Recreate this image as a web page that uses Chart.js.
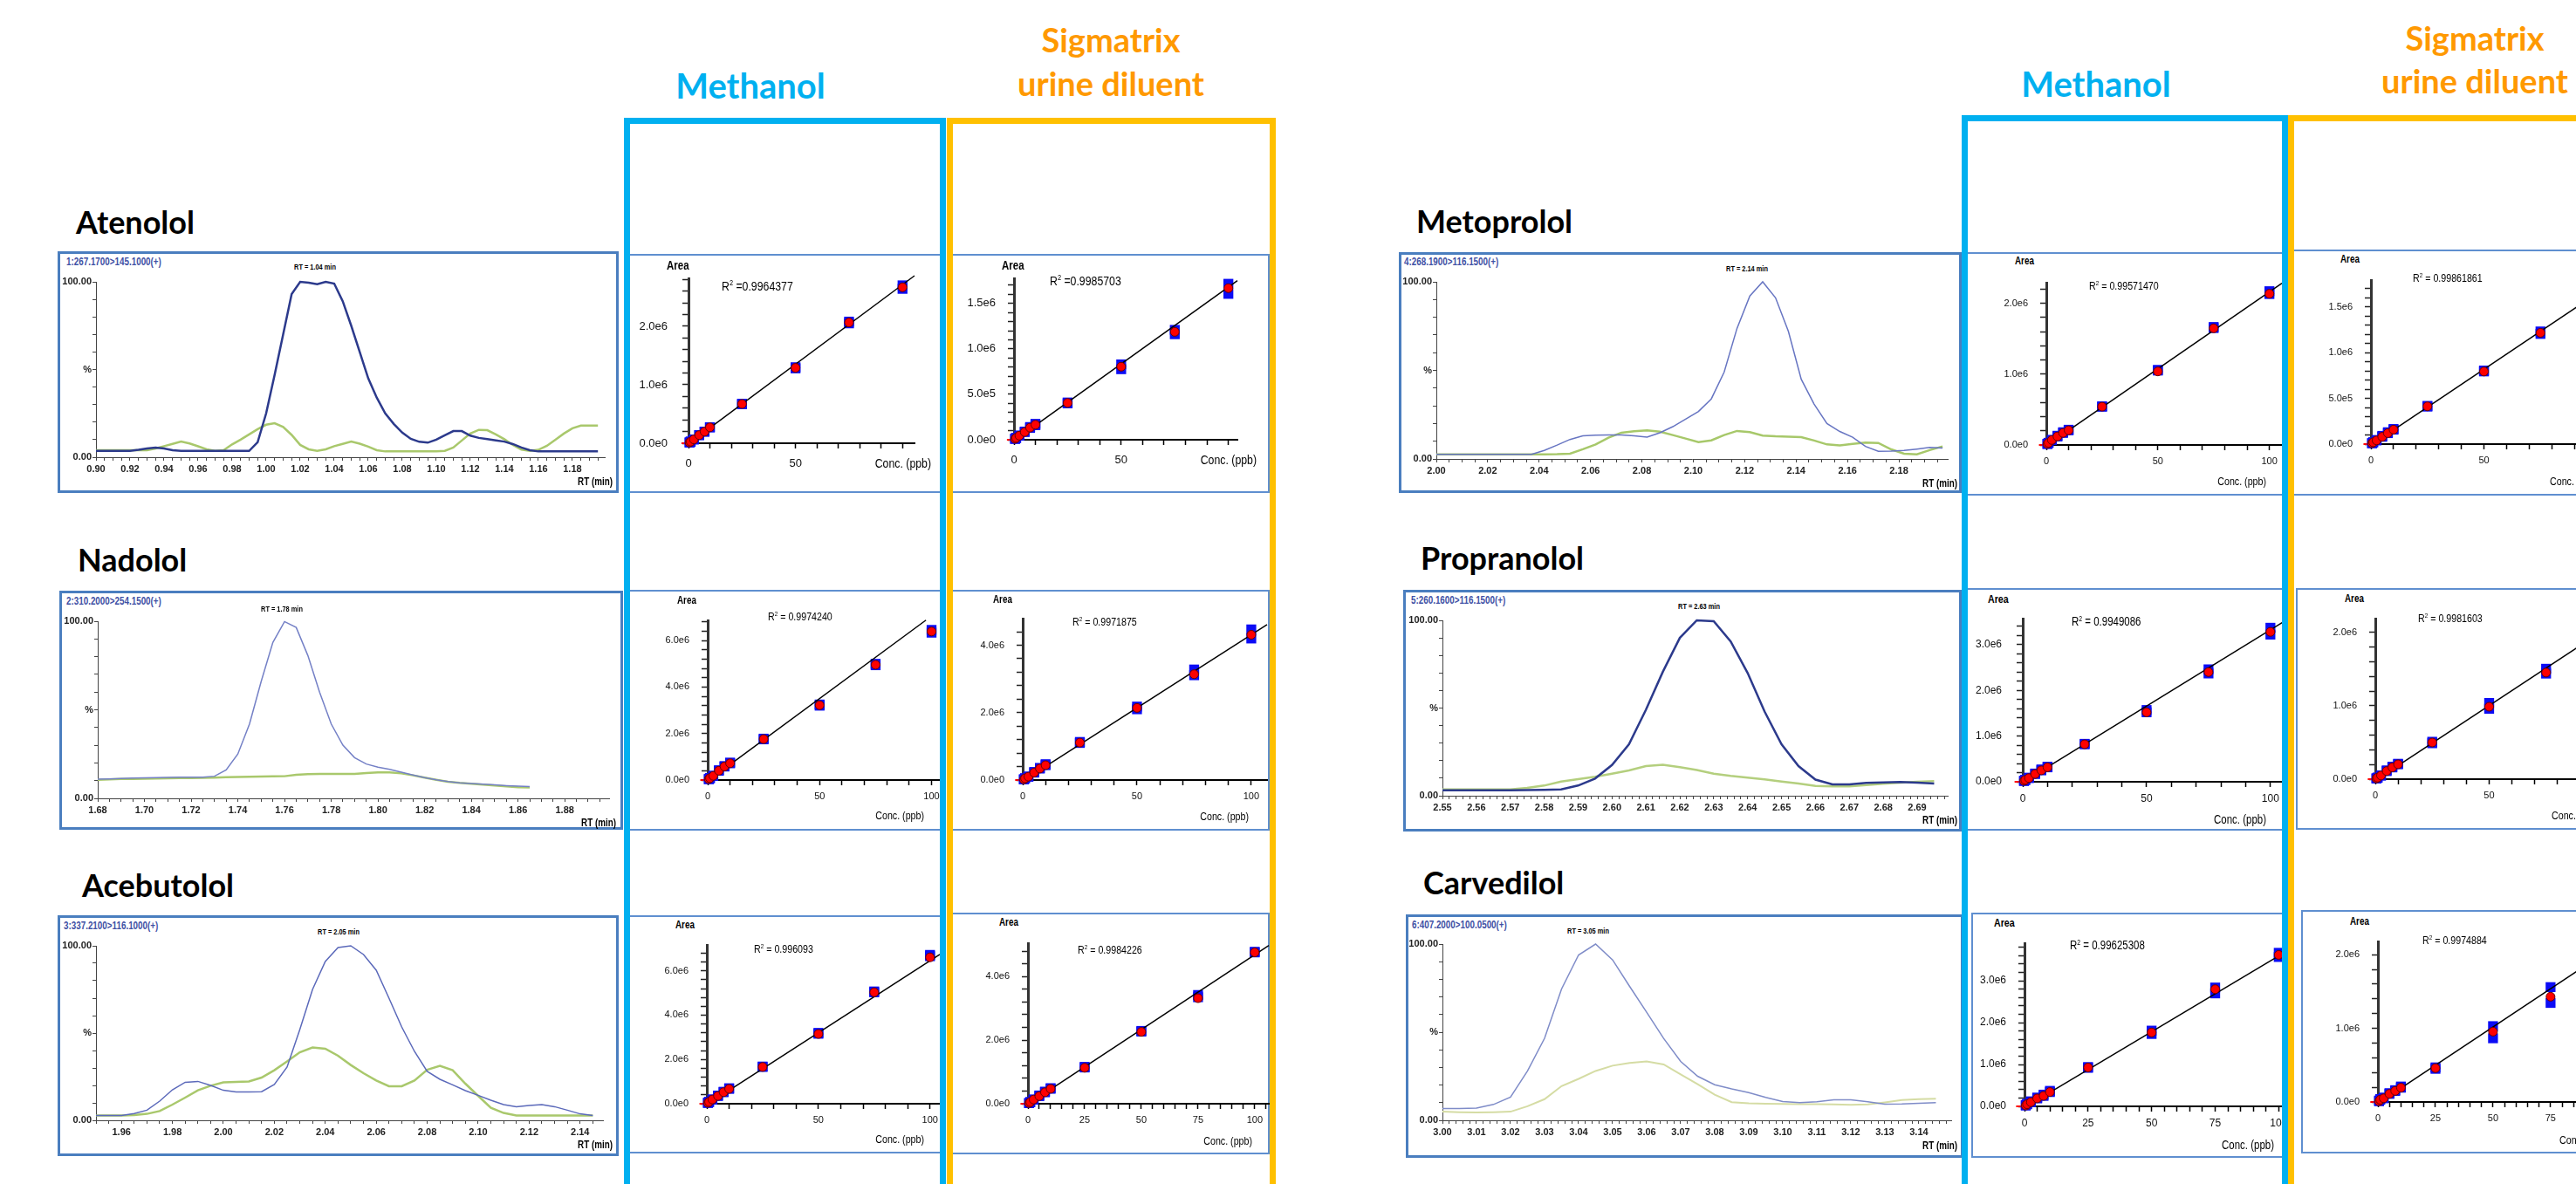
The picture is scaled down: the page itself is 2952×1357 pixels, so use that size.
<!DOCTYPE html>
<html>
<head>
<meta charset="utf-8">
<script src="https://cdn.jsdelivr.net/npm/chart.js@4.4.1/dist/chart.umd.min.js"></script>
<style>
  html, body { margin: 0; padding: 0; background: #fff; }
  body { position: relative; width: 2952px; height: 1357px; overflow: hidden; }
  .frame { position: absolute; box-sizing: border-box; border-style: solid; border-width: 7.5px; z-index: 5; }
  .box { position: absolute; box-sizing: border-box; z-index: 1; }
  canvas { position: absolute; z-index: 2; }
  .t { position: absolute; white-space: nowrap; z-index: 3; }
  sup { font-size: 0.6em; line-height: 0; vertical-align: 0.6em; }
</style>
</head>
<body>
<script>
// ---------- chromatograms: retention time (min) and relative intensity (%) ----------
const atenololRt = [0.900,0.905,0.910,0.915,0.920,0.925,0.930,0.935,0.940,0.945,0.950,0.955,0.960,0.965,0.970,0.975,0.980,0.985,0.990,0.995,
  1.000,1.005,1.010,1.015,1.020,1.025,1.030,1.035,1.040,1.045,1.050,1.055,1.060,1.065,1.070,1.075,1.080,1.085,1.090,1.095,
  1.100,1.105,1.110,1.115,1.120,1.125,1.130,1.135,1.140,1.145,1.150,1.155,1.160,1.165,1.170,1.175,1.180,1.185,1.190,1.195];
const atenololBlue = [3.6,3.6,3.6,3.6,3.6,4.2,5.0,5.5,5.0,4.0,3.6,3.6,3.6,3.6,3.6,3.6,3.6,3.6,3.6,8.5,
  25,47,70,93,100,99.5,98.7,100,99,89,75,60,45,34,25,19,14,10.5,8.8,8.3,
  10,12.5,14.9,14.9,12.3,11,10.3,9.6,8.9,7.5,5.5,4.0,3.3,3.3,3.3,3.3,3.3,3.3,3.3,3.3];
const atenololGreen = [4.0,4.0,4.0,4.0,4.0,4.0,4.0,5.0,6.3,7.6,8.9,7.8,6.2,4.5,3.6,4.0,7.3,10,13,16,
  18.5,19.4,17.2,12.7,7.0,4.5,3.6,4.5,6.3,7.6,8.9,7.7,6.0,4.0,3.3,3.3,3.3,3.3,3.3,3.3,
  3.3,3.6,5.5,9.5,13.5,15.6,15.4,13.0,10.3,7.0,4.3,3.6,4.2,6.5,10,13.5,16.5,18,18,18];

const nadololRt = [1.680,1.685,1.690,1.695,1.700,1.705,1.710,1.715,1.720,1.725,1.730,1.735,1.740,1.745,1.750,1.755,1.760,1.765,1.770,
  1.775,1.780,1.785,1.790,1.795,1.800,1.805,1.810,1.815,1.820,1.825,1.830,1.835,1.840,1.845,1.850,1.855,1.860,1.865];
const nadololBlue = [10.8,11.0,11.2,11.4,11.6,11.7,11.8,11.9,12.0,12.0,12.5,16,25,42,66,88,99.8,96.5,80.6,
  60,42,30,23,19.4,17.6,16.4,14.8,13.2,11.7,10.5,9.5,8.8,8.4,8.0,7.6,7.2,6.9,6.7];
const nadololGreen = [10.5,10.7,10.9,11.0,11.1,11.2,11.3,11.4,11.5,11.6,11.7,11.9,12.1,12.2,12.3,12.4,12.5,13.3,13.7,
  13.8,13.8,13.8,13.8,14.3,14.6,14.6,14.1,13.0,11.7,10.5,9.4,8.7,8.2,7.8,7.3,6.8,6.3,6.2];

const acebutololRt = [1.950,1.955,1.960,1.965,1.970,1.975,1.980,1.985,1.990,1.995,2.000,2.005,2.010,2.015,2.020,2.025,2.030,2.035,2.040,2.045,
  2.050,2.055,2.060,2.065,2.070,2.075,2.080,2.085,2.090,2.095,2.100,2.105,2.110,2.115,2.120,2.125,2.130,2.135,2.140,2.145];
const acebutololBlue = [2.8,2.8,2.8,3.9,5.8,11,17.5,21.8,22.3,20,17.2,16.2,16.2,16.4,20.5,30.5,52,75,91,99,
  100,95,86,70,53.5,39.5,28,23.5,20.3,17,14.3,11.5,9.0,7.8,8.5,9.0,7.8,5.8,3.7,2.8];
const acebutololGreen = [2.8,2.8,2.8,3.0,3.7,5.3,9,13,17.2,19.8,21.7,22,22.3,24.5,28.7,33.7,39,41.7,41,37,
  31.7,27,22.8,19.5,19.5,22.8,29,31.2,28.7,21,14,7.2,4.2,2.8,2.8,2.8,2.8,2.8,2.8,2.8];

const metoprololRt = [2.000,2.002,2.007,2.012,2.017,2.022,2.027,2.032,2.037,2.042,2.047,2.052,2.057,2.062,2.067,2.072,2.077,2.082,2.087,2.092,
  2.097,2.102,2.107,2.112,2.117,2.122,2.127,2.132,2.137,2.142,2.147,2.152,2.157,2.162,2.167,2.172,2.177,2.182,2.187,2.192,2.197];
const metoprololBlue = [2.6,2.6,2.6,2.6,2.6,2.6,2.6,2.6,2.6,4.8,7.8,11.0,13.0,13.4,13.5,13.5,13.0,12.3,14.8,18.2,
  22.5,26.8,33.9,49,73.7,92,100,91,72,45,31,20,15.5,12.3,7.1,4.3,4.4,4.8,5.6,6.5,6.2];
const metoprololGreen = [2.6,2.6,2.6,2.6,2.6,2.6,2.6,2.6,2.6,2.6,2.7,3.0,5.5,8.2,12.0,14.8,15.6,16.1,15.4,13.5,
  11.5,9.5,10.5,13.5,15.8,15.1,13.2,12.8,12.6,12.3,10.4,8.2,7.6,8.5,9.2,9.0,5.4,3.0,2.6,5.0,7.1];

const propranololRt = [2.550,2.555,2.560,2.565,2.570,2.575,2.580,2.585,2.590,2.595,2.600,2.605,2.610,2.615,2.620,
  2.625,2.630,2.635,2.640,2.645,2.650,2.655,2.660,2.665,2.670,2.675,2.680,2.685,2.690,2.695];
const propranololBlue = [3.1,3.1,3.1,3.1,3.1,3.2,3.4,3.6,5.8,9.8,17.5,29.3,49,70.7,90,
  100,99.5,88,70,48,29.3,16.9,9.2,6.5,6.5,7.3,7.6,7.8,7.5,7.0];
const propranololGreen = [3.6,3.6,3.6,3.6,3.6,4.5,5.8,8.1,9.4,10.8,12.6,14.4,16.9,17.7,16.3,
  14.7,12.6,11.3,10.3,9.3,8.1,7.0,5.6,5.3,5.3,6.1,6.8,7.5,7.9,8.3];

const carvedilolRt = [3.000,3.005,3.010,3.015,3.020,3.025,3.030,3.035,3.040,3.045,3.050,3.055,3.060,3.065,3.070,
  3.075,3.080,3.085,3.090,3.095,3.100,3.105,3.110,3.115,3.120,3.125,3.130,3.135,3.140,3.145];
const carvedilolBlue = [6.7,6.7,6.9,9.0,13.2,28,46.5,74.5,93.8,100,91,76,61.3,46.5,33.4,
  25,20.2,17.8,15.7,13,10.6,10.0,10.5,11.6,11.6,10.5,9.2,9.3,9.7,10];
const carvedilolGreen = [4.9,4.6,4.4,4.6,4.9,8.0,12,19.4,23.5,28,31,32.6,33.4,31.7,26,
  20.5,14.5,10.3,9.6,9.4,9.3,9.2,9.1,9.0,8.8,9.0,10.2,11.5,12,12.3];

// ---------- calibration curves: concentration (ppb) vs peak area (x 1e6) ----------
const conc = [0.5, 1, 2.5, 5, 7.5, 10, 25, 50, 75, 100];
const concTicksShort = [0, 50];
const concTicks = [0, 50, 100];
const concTicksFine = [0, 25, 50, 75, 100];

// mean = red circles, rep1 / rep2 = blue squares, fit = regression line end points
const atenololMeOH      = [0.013,0.027,0.065,0.139,0.198,0.272,0.672,1.289,2.065,2.667];
const atenololMeOHRep1  = [0.013,0.027,0.065,0.139,0.198,0.272,0.675,1.300,2.080,2.700];
const atenololMeOHRep2  = [0.013,0.027,0.065,0.139,0.198,0.272,0.668,1.280,2.050,2.640];
const atenololMeOHFit   = [[0, -0.01], [105.6, 2.865]];
const atenololSig       = [0.010,0.020,0.045,0.085,0.133,0.165,0.405,0.804,1.187,1.668];
const atenololSigRep1   = [0.010,0.020,0.045,0.090,0.140,0.175,0.410,0.829,1.209,1.716];
const atenololSigRep2   = [0.010,0.020,0.045,0.085,0.130,0.160,0.400,0.776,1.161,1.605];
const atenololSigFit    = [[0, -0.01], [104.2, 1.75]];

const nadololMeOH       = [0.04,0.08,0.18,0.40,0.58,0.72,1.76,3.22,4.96,6.39];
const nadololMeOHRep1   = [0.04,0.08,0.18,0.42,0.60,0.75,1.78,3.25,5.00,6.46];
const nadololMeOHRep2   = [0.04,0.08,0.18,0.40,0.58,0.72,1.75,3.20,4.94,6.34];
const nadololMeOHFit    = [[0, -0.04], [97.5, 6.88]];
const nadololSig        = [0.02,0.05,0.10,0.22,0.34,0.44,1.11,2.14,3.14,4.31];
const nadololSigRep1    = [0.02,0.05,0.10,0.24,0.36,0.47,1.13,2.18,3.28,4.47];
const nadololSigRep2    = [0.02,0.05,0.10,0.22,0.34,0.44,1.10,2.10,3.11,4.20];
const nadololSigFit     = [[0, -0.03], [106.9, 4.61]];

const acebutololMeOH     = [0.04,0.08,0.19,0.35,0.52,0.67,1.66,3.15,5.03,6.61];
const acebutololMeOHRep1 = [0.04,0.08,0.19,0.37,0.54,0.70,1.68,3.20,5.07,6.72];
const acebutololMeOHRep2 = [0.04,0.08,0.19,0.35,0.52,0.67,1.66,3.16,5.03,6.66];
const acebutololMeOHFit  = [[0, -0.04], [104.4, 6.74]];
const acebutololSig      = [0.02,0.05,0.13,0.24,0.36,0.47,1.13,2.26,3.32,4.76];
const acebutololSigRep1  = [0.02,0.05,0.13,0.26,0.38,0.49,1.16,2.29,3.42,4.78];
const acebutololSigRep2  = [0.02,0.05,0.13,0.24,0.36,0.47,1.14,2.27,3.35,4.76];
const acebutololSigFit   = [[0, -0.02], [106.2, 4.98]];

const metoprololMeOH     = [0.015,0.03,0.07,0.12,0.17,0.207,0.541,1.038,1.646,2.134];
const metoprololMeOHRep1 = [0.015,0.03,0.07,0.13,0.18,0.215,0.545,1.060,1.665,2.170];
const metoprololMeOHRep2 = [0.015,0.03,0.07,0.12,0.17,0.207,0.540,1.050,1.650,2.130];
const metoprololMeOHFit  = [[0, -0.01], [105.6, 2.283]];
const metoprololSig      = [0.01,0.02,0.04,0.08,0.12,0.158,0.413,0.794,1.217,1.65];
const metoprololSigRep1  = [0.01,0.02,0.045,0.09,0.13,0.165,0.418,0.805,1.232,1.67];
const metoprololSigRep2  = [0.01,0.02,0.04,0.08,0.12,0.158,0.410,0.795,1.205,1.64];
const metoprololSigFit   = [[0, -0.01], [105, 1.73]];

const propranololMeOH     = [0.02,0.04,0.08,0.17,0.25,0.316,0.82,1.52,2.40,3.28];
const propranololMeOHRep1 = [0.02,0.04,0.09,0.18,0.27,0.33,0.83,1.57,2.46,3.37];
const propranololMeOHRep2 = [0.02,0.04,0.08,0.17,0.25,0.316,0.82,1.52,2.37,3.22];
const propranololMeOHFit  = [[0, -0.01], [105, 3.49]];
const propranololSig      = [0.01,0.02,0.05,0.11,0.16,0.203,0.50,0.988,1.454,1.97];
const propranololSigRep1  = [0.01,0.02,0.05,0.12,0.17,0.21,0.51,1.04,1.506,2.00];
const propranololSigRep2  = [0.01,0.02,0.05,0.11,0.16,0.203,0.49,0.96,1.44,1.94];
const propranololSigFit   = [[0, -0.02], [105, 2.13]];

const carvedilolMeOH     = [0.02,0.05,0.10,0.19,0.25,0.342,0.928,1.765,2.80,3.62];
const carvedilolMeOHRep1 = [0.03,0.06,0.12,0.21,0.28,0.37,0.94,1.81,2.84,3.67];
const carvedilolMeOHRep2 = [0.02,0.05,0.10,0.19,0.25,0.342,0.92,1.73,2.70,3.57];
const carvedilolMeOHFit  = [[0, -0.03], [104, 3.74]];
const carvedilolSig      = [0.01,0.03,0.05,0.11,0.15,0.194,0.46,0.955,1.43,2.06];
const carvedilolSigRep1  = [0.02,0.04,0.06,0.12,0.16,0.21,0.47,1.03,1.56,2.10];
const carvedilolSigRep2  = [0.01,0.03,0.05,0.11,0.15,0.194,0.45,0.865,1.345,2.02];
const carvedilolSigFit   = [[0, -0.02], [105, 2.16]];

// ---------- helpers ----------
// no narrow face is installed, so Arial-metric text is squeezed to look like Arial Narrow
const SANS = "'Liberation Sans', Arial, sans-serif";
const TITLE = "Lato, 'Open Sans', sans-serif";
const NARROW_X = 0.82;

function isMult(v, step) {
  const q = v / step;
  return Math.abs(q - Math.round(q)) < 1e-6;
}

function addDiv(cls, css) {
  const d = document.createElement('div');
  d.className = cls;
  d.style.cssText = css;
  document.body.appendChild(d);
  return d;
}

// text placed by its left / centre / right x and vertical centre y
function txt(html, x, cy, font, color, align, sx) {
  const tx = align === 'right' ? '-100%' : align === 'center' ? '-50%' : '0';
  const ox = align === 'right' ? 'right' : align === 'center' ? 'center' : 'left';
  const d = addDiv('t', `left:${x}px;top:${cy}px;font:${font};line-height:1;color:${color || '#000'};` +
    `transform-origin:${ox} center;transform:translate(${tx},-50%) scaleX(${sx || 1});`);
  d.innerHTML = html;
}

function box(b, border) {
  addDiv('box', `left:${b[0]}px;top:${b[1]}px;width:${b[2] - b[0]}px;height:${b[3] - b[1]}px;border:${border};`);
}

function addCanvas(left, top, w, h) {
  const c = document.createElement('canvas');
  c.width = w; c.height = h;
  c.style.left = left + 'px'; c.style.top = top + 'px';
  c.style.width = w + 'px'; c.style.height = h + 'px';
  document.body.appendChild(c);
  return c.getContext('2d');
}

const baseOptions = {
  responsive: false, animation: false, events: [],
  plugins: { legend: { display: false }, tooltip: { enabled: false } }
};

function chromatogram(c) {
  const W = 50, H = 34, padT = 10, padR = 8;
  const left = Math.round(c.x0) - W, top = Math.round(c.y100) - padT;
  const width = Math.round(c.x1) + padR - left, height = Math.round(c.y0) + H - top;
  const ctx = addCanvas(left, top, width, height);
  const series = v => c.rt.map((x, i) => ({ x, y: v[i] }));
  const tickFont = { family: SANS, size: 11, weight: 'bold' };
  new Chart(ctx, {
    type: 'scatter',
    data: {
      datasets: [
        { data: series(c.blue), borderColor: c.blueColor, borderWidth: c.blueWidth },
        { data: series(c.green), borderColor: c.greenColor, borderWidth: c.greenWidth }
      ].map(d => Object.assign({ showLine: true, pointRadius: 0, clip: false, tension: 0 }, d))
    },
    options: Object.assign({}, baseOptions, {
      layout: { padding: { top: padT, right: padR, left: 0, bottom: 0 } },
      scales: {
        x: {
          type: 'linear', min: c.min, max: c.max,
          afterFit: s => { s.height = H; s.paddingLeft = 0; s.paddingRight = 0; },
          ticks: { stepSize: c.step, includeBounds: false, autoSkip: false, maxRotation: 0, padding: 3,
                   color: '#222', font: tickFont, callback: v => isMult(v, c.lab) ? v.toFixed(2) : '' },
          grid: { drawOnChartArea: false, tickLength: 4, tickColor: '#444', tickWidth: 1 },
          border: { color: '#444', width: 1 }
        },
        y: {
          min: 0, max: 100,
          afterFit: s => { s.width = W; s.paddingTop = 0; s.paddingBottom = 0; },
          ticks: { stepSize: 10, includeBounds: false, autoSkip: false, padding: 1, color: '#222', font: tickFont,
                   callback: v => v === 100 ? '100.00' : v === 50 ? '%' : v === 0 ? '0.00' : '' },
          grid: { drawOnChartArea: false, tickLength: 4, tickColor: '#444', tickWidth: 1 },
          border: { color: '#444', width: 1 }
        }
      }
    })
  });
  const f = `bold 12px ${SANS}`;
  txt(c.tag, c.tagX, c.tagY, f, '#3f51a5', 'left', NARROW_X);
  txt(c.rtText, c.rtX, c.rtY, `bold 9px ${SANS}`, '#000', 'center', NARROW_X);
  txt('RT (min)', c.unitX, c.unitY, f, '#000', 'right', NARROW_X);
}

function calibration(p) {
  const W = 80, H = 40, padT = 6, padR = 16;
  const left = Math.round(p.x0) - W, top = Math.round(p.y1) - padT;
  const width = Math.round(p.x1) + padR - left, height = Math.round(p.y0) + H - top;
  const ctx = addCanvas(left, top, width, height);
  const pts = v => conc.map((x, i) => ({ x, y: v[i] }));
  const font = { family: SANS, size: Math.round(p.fs * 0.88) };
  new Chart(ctx, {
    type: 'scatter',
    data: {
      datasets: [
        { data: pts(p.mean), pointStyle: 'circle', pointRadius: 5, backgroundColor: '#ff0000', borderColor: '#6a0000', borderWidth: 1 },
        { data: p.fit.map(([x, y]) => ({ x, y })), showLine: true, borderColor: '#000', borderWidth: 1.5, pointRadius: 0 },
        { data: pts(p.rep1).concat(pts(p.rep2)), pointStyle: 'rect', pointRadius: 8, backgroundColor: '#0b0bf5', borderWidth: 0 },
        { data: [{ x: -3.3, y: 0 }, { x: 0, y: 0 }], showLine: true, borderColor: '#ff0000', borderWidth: 2, pointRadius: 0 }
      ].map(d => Object.assign({ clip: false }, d))
    },
    options: Object.assign({}, baseOptions, {
      layout: { padding: { top: padT, right: padR, left: 0, bottom: 0 } },
      scales: {
        x: {
          type: 'linear', min: 0, max: p.xmax,
          afterFit: s => { s.height = H; s.paddingLeft = 0; s.paddingRight = 0; },
          ticks: { stepSize: p.xstep, includeBounds: false, autoSkip: false, maxRotation: 0, padding: p.fs >= 15 ? 10 : 6,
                   color: '#111', font, callback: v => p.xlabels.some(l => Math.abs(l - v) < 1e-6) ? String(Math.round(v)) : '' },
          grid: { drawOnChartArea: false, tickLength: 6, tickColor: '#000', tickWidth: 1.5 },
          border: { color: '#000', width: 2 }
        },
        y: {
          min: 0, max: p.ymax,
          afterFit: s => { s.width = W; s.paddingTop = 0; s.paddingBottom = 0; },
          ticks: { stepSize: p.ystep, includeBounds: false, autoSkip: false, padding: p.ypad, color: '#111', font,
                   callback: v => isMult(v, p.ylab) ? (Math.round(v * 1e6)).toExponential(1).replace('+', '') : '' },
          grid: { drawOnChartArea: false, tickLength: 7, tickColor: '#222', tickWidth: 1.5 },
          border: { color: '#333', width: 3 }
        }
      }
    })
  });
  txt('Area', p.areaX, p.areaY, `bold ${p.fs - 1}px ${SANS}`, '#000', 'left', NARROW_X);
  txt(p.r2, p.r2X, p.r2Y, `${p.fs}px ${SANS}`, '#000', 'left', NARROW_X);
  txt('Conc. (ppb)', p.concX, p.concY, `${p.fs}px ${SANS}`, '#000', p.concAlign, NARROW_X);
}

// ---------- layout ----------
const BLUE = '#00b0f0', GOLD = '#ffc000', ORANGE = '#ff9900';
const CHROM_BORDER = '3px solid #4a7ebf';
const CAL_BORDER = '2.5px solid #5f8fd0';

const chromatograms = [
  { box: [66, 288, 709, 565], x0: 110, x1: 693, y100: 323, y0: 524, min: 0.90, max: 1.199, step: 0.005, lab: 0.02,
    rt: atenololRt, blue: atenololBlue, green: atenololGreen,
    blueColor: '#2c3a8c', blueWidth: 2.5, greenColor: '#a9c86c', greenWidth: 2.5,
    tag: '1:267.1700&gt;145.1000(+)', tagX: 76, tagY: 300, rtText: 'RT = 1.04 min', rtX: 361, rtY: 306, unitX: 702, unitY: 552 },
  { box: [68, 677, 714, 951], x0: 111.6, x1: 698, y100: 712, y0: 915, min: 1.68, max: 1.899, step: 0.005, lab: 0.02,
    rt: nadololRt, blue: nadololBlue, green: nadololGreen,
    blueColor: '#7480c6', blueWidth: 1.5, greenColor: '#a9c86c', greenWidth: 2.5,
    tag: '2:310.2000&gt;254.1500(+)', tagX: 76, tagY: 689, rtText: 'RT = 1.78 min', rtX: 323, rtY: 698, unitX: 706, unitY: 943 },
  { box: [66, 1049, 709, 1325], x0: 110, x1: 691, y100: 1084, y0: 1284, min: 1.95, max: 2.149, step: 0.005, lab: 0.02,
    rt: acebutololRt, blue: acebutololBlue, green: acebutololGreen,
    blueColor: '#5b69ba', blueWidth: 1.5, greenColor: '#a9c86c', greenWidth: 2.5,
    tag: '3:337.2100&gt;116.1000(+)', tagX: 73, tagY: 1061, rtText: 'RT = 2.05 min', rtX: 388, rtY: 1068, unitX: 702, unitY: 1312 },
  { box: [1603, 289, 2248, 565], x0: 1646, x1: 2231.5, y100: 323, y0: 526, min: 2.00, max: 2.199, step: 0.005, lab: 0.02,
    rt: metoprololRt, blue: metoprololBlue, green: metoprololGreen,
    blueColor: '#6775c2', blueWidth: 1.5, greenColor: '#a7c86a', greenWidth: 2.5,
    tag: '4:268.1900&gt;116.1500(+)', tagX: 1609, tagY: 300, rtText: 'RT = 2.14 min', rtX: 2002, rtY: 308, unitX: 2243, unitY: 554 },
  { box: [1608, 676, 2248, 953], x0: 1653, x1: 2231.5, y100: 711, y0: 912, min: 2.55, max: 2.699, step: 0.002, lab: 0.01,
    rt: propranololRt, blue: propranololBlue, green: propranololGreen,
    blueColor: '#2c3a8c', blueWidth: 2.5, greenColor: '#b4cf7e', greenWidth: 2.5,
    tag: '5:260.1600&gt;116.1500(+)', tagX: 1617, tagY: 688, rtText: 'RT = 2.63 min', rtX: 1947, rtY: 695, unitX: 2243, unitY: 940 },
  { box: [1611, 1048, 2250, 1327], x0: 1653, x1: 2236, y100: 1082, y0: 1284, min: 3.00, max: 3.1495, step: 0.002, lab: 0.01,
    rt: carvedilolRt, blue: carvedilolBlue, green: carvedilolGreen,
    blueColor: '#7f8cc8', blueWidth: 1.5, greenColor: '#d5dca4', greenWidth: 2,
    tag: '6:407.2000&gt;100.0500(+)', tagX: 1618, tagY: 1060, rtText: 'RT = 3.05 min', rtX: 1820, rtY: 1067, unitX: 2243, unitY: 1313 }
];

const calibrations = [
  { box: [715, 291, 1084, 565], x0: 788.6, x1: 1048, y0: 507.7, y1: 317.3, xmax: 105.6, ymax: 2.82, ystep: 0.2, ylab: 1, xstep: 10,
    xlabels: concTicksShort, fs: 15, ypad: 17, mean: atenololMeOH, rep1: atenololMeOHRep1, rep2: atenololMeOHRep2, fit: atenololMeOHFit,
    r2: 'R<sup>2</sup> =0.9964377', r2X: 827, r2Y: 327, areaX: 764, areaY: 304, concX: 1067, concY: 530, concAlign: 'right' },
  { box: [1085, 291, 1455, 565], x0: 1162.3, x1: 1418, y0: 504, y1: 317, xmax: 104.2, ymax: 1.776, ystep: 0.1, ylab: 0.5, xstep: 10,
    xlabels: concTicksShort, fs: 15, ypad: 14, mean: atenololSig, rep1: atenololSigRep1, rep2: atenololSigRep2, fit: atenololSigFit,
    r2: 'R<sup>2</sup> =0.9985703', r2X: 1203, r2Y: 321, areaX: 1148, areaY: 304, concX: 1440, concY: 526, concAlign: 'right' },
  { box: [715, 676, 1084, 952], x0: 811.4, x1: 1075.6, y0: 894, y1: 709.3, xmax: 103.3, ymax: 6.87, ystep: 0.4, ylab: 2, xstep: 10,
    xlabels: concTicks, fs: 13, ypad: 14, mean: nadololMeOH, rep1: nadololMeOHRep1, rep2: nadololMeOHRep2, fit: nadololMeOHFit,
    r2: 'R<sup>2</sup> = 0.9974240', r2X: 880, r2Y: 706, areaX: 776, areaY: 688, concX: 1059, concY: 934, concAlign: 'right' },
  { box: [1085, 676, 1455, 952], x0: 1172, x1: 1452, y0: 894, y1: 707.3, xmax: 106.9, ymax: 4.79, ystep: 0.4, ylab: 2, xstep: 10,
    xlabels: concTicks, fs: 13, ypad: 14, mean: nadololSig, rep1: nadololSigRep1, rep2: nadololSigRep2, fit: nadololSigFit,
    r2: 'R<sup>2</sup> = 0.9971875', r2X: 1229, r2Y: 712, areaX: 1138, areaY: 687, concX: 1431, concY: 935, concAlign: 'right' },
  { box: [715, 1049, 1084, 1322], x0: 809.5, x1: 1077, y0: 1265, y1: 1080.7, xmax: 104.4, ymax: 7.17, ystep: 0.4, ylab: 2, xstep: 10,
    xlabels: concTicks, fs: 13, ypad: 14, mean: acebutololMeOH, rep1: acebutololMeOHRep1, rep2: acebutololMeOHRep2, fit: acebutololMeOHFit,
    r2: 'R<sup>2</sup> = 0.996093', r2X: 864, r2Y: 1087, areaX: 774, areaY: 1060, concX: 1059, concY: 1305, concAlign: 'right' },
  { box: [1085, 1046, 1455, 1323], x0: 1177.6, x1: 1453.7, y0: 1265, y1: 1079, xmax: 106.2, ymax: 5.05, ystep: 0.4, ylab: 2, xstep: 5,
    xlabels: concTicksFine, fs: 13, ypad: 14, mean: acebutololSig, rep1: acebutololSigRep1, rep2: acebutololSigRep2, fit: acebutololSigFit,
    r2: 'R<sup>2</sup> = 0.9984226', r2X: 1235, r2Y: 1088, areaX: 1145, areaY: 1057, concX: 1435, concY: 1307, concAlign: 'right' },
  { box: [2248, 289, 2622, 568], x0: 2345.3, x1: 2615.2, y0: 509.8, y1: 322, xmax: 105.6, ymax: 2.29, ystep: 0.2, ylab: 1, xstep: 10,
    xlabels: concTicks, fs: 13, ypad: 14, mean: metoprololMeOH, rep1: metoprololMeOHRep1, rep2: metoprololMeOHRep2, fit: metoprololMeOHFit,
    r2: 'R<sup>2</sup> = 0.99571470', r2X: 2394, r2Y: 327, areaX: 2309, areaY: 299, concX: 2597, concY: 551, concAlign: 'right' },
  { box: [2627, 286, 3000, 568], x0: 2717, x1: 2989, y0: 508.7, y1: 318.9, xmax: 105, ymax: 1.794, ystep: 0.1, ylab: 0.5, xstep: 10,
    xlabels: concTicks, fs: 13, ypad: 14, mean: metoprololSig, rep1: metoprololSigRep1, rep2: metoprololSigRep2, fit: metoprololSigFit,
    r2: 'R<sup>2</sup> = 0.99861861', r2X: 2765, r2Y: 318, areaX: 2682, areaY: 297, concX: 2922, concY: 551, concAlign: 'left' },
  { box: [2248, 674, 2622, 952], x0: 2318, x1: 2616.2, y0: 896, y1: 707.3, xmax: 105, ymax: 3.57, ystep: 0.2, ylab: 1, xstep: 10,
    xlabels: concTicks, fs: 14, ypad: 17, mean: propranololMeOH, rep1: propranololMeOHRep1, rep2: propranololMeOHRep2, fit: propranololMeOHFit,
    r2: 'R<sup>2</sup> = 0.9949086', r2X: 2374, r2Y: 712, areaX: 2278, areaY: 686, concX: 2597, concY: 939, concAlign: 'right' },
  { box: [2631, 674, 3000, 951], x0: 2722, x1: 2996, y0: 893.3, y1: 706.6, xmax: 105, ymax: 2.19, ystep: 0.2, ylab: 1, xstep: 10,
    xlabels: concTicks, fs: 13, ypad: 14, mean: propranololSig, rep1: propranololSigRep1, rep2: propranololSigRep2, fit: propranololSigFit,
    r2: 'R<sup>2</sup> = 0.9981603', r2X: 2771, r2Y: 708, areaX: 2687, areaY: 686, concX: 2924, concY: 934, concAlign: 'left' },
  { box: [2259, 1046, 2622, 1327], x0: 2320.4, x1: 2622.6, y0: 1268.3, y1: 1079.2, xmax: 104, ymax: 3.9, ystep: 0.2, ylab: 1, xstep: 5,
    xlabels: concTicksFine, fs: 14, ypad: 14, mean: carvedilolMeOH, rep1: carvedilolMeOHRep1, rep2: carvedilolMeOHRep2, fit: carvedilolMeOHFit,
    r2: 'R<sup>2</sup> = 0.99625308', r2X: 2372, r2Y: 1083, areaX: 2285, areaY: 1057, concX: 2606, concY: 1312, concAlign: 'right' },
  { box: [2637, 1043, 3000, 1322], x0: 2725, x1: 3002, y0: 1263.3, y1: 1077, xmax: 105, ymax: 2.18, ystep: 0.2, ylab: 1, xstep: 5,
    xlabels: concTicksFine, fs: 13, ypad: 14, mean: carvedilolSig, rep1: carvedilolSigRep1, rep2: carvedilolSigRep2, fit: carvedilolSigFit,
    r2: 'R<sup>2</sup> = 0.9974884', r2X: 2776, r2Y: 1077, areaX: 2693, areaY: 1056, concX: 2933, concY: 1306, concAlign: 'left' }
];

// drug names
const nameFont = `bold 36px ${TITLE}`;
txt('Atenolol', 87, 254, nameFont);
txt('Nadolol', 89, 641, nameFont);
txt('Acebutolol', 94, 1014, nameFont);
txt('Metoprolol', 1623, 253, nameFont);
txt('Propranolol', 1628, 639, nameFont);
txt('Carvedilol', 1631, 1011, nameFont);

// column headings
const headFont = `bold 38px ${TITLE}`;
const methFont = `bold 40px ${TITLE}`;
txt('Methanol', 860, 98, methFont, BLUE, 'center');
txt('Sigmatrix', 1273, 45, headFont, ORANGE, 'center');
txt('urine diluent', 1273, 95, headFont, ORANGE, 'center');
txt('Methanol', 2402, 96, methFont, BLUE, 'center');
txt('Sigmatrix', 2836, 43, headFont, ORANGE, 'center');
txt('urine diluent', 2836, 92, headFont, ORANGE, 'center');

chromatograms.forEach(c => { box(c.box, CHROM_BORDER); chromatogram(c); });
calibrations.forEach(p => { box(p.box, CAL_BORDER); calibration(p); });

// column frames
addDiv('frame', `left:715px;top:135px;width:369px;height:1300px;border-color:${BLUE};`);
addDiv('frame', `left:1085px;top:135px;width:377px;height:1300px;border-color:${GOLD};`);
addDiv('frame', `left:2248px;top:132px;width:374px;height:1300px;border-color:${BLUE};`);
addDiv('frame', `left:2622px;top:132px;width:380px;height:1300px;border-color:${GOLD};`);
</script>
</body>
</html>
